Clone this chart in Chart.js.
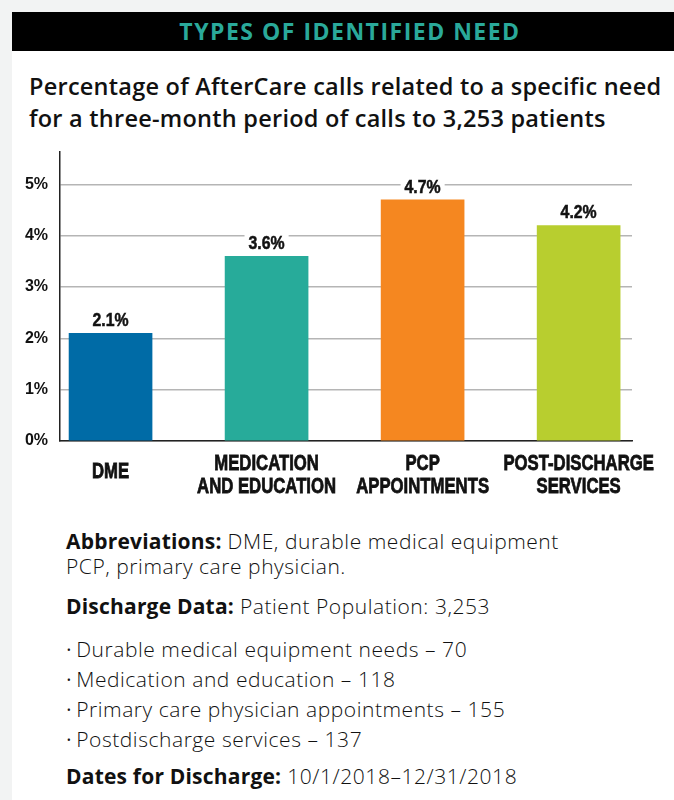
<!DOCTYPE html>
<html>
<head>
<meta charset="utf-8">
<script src="https://cdn.jsdelivr.net/npm/chart.js@4.4.1/dist/chart.umd.min.js"></script>
<style>
  body { margin: 0; background: #f2f3f3; width: 674px; height: 800px; overflow: hidden; }
  .panel { position: absolute; left: 12px; top: 12px; width: 662px; height: 788px; background: #fff; }
  .header { position: absolute; left: 12px; top: 12px; width: 662px; height: 39px; background: #000;
    color: #2aa99a; font: 700 23px 'Open Sans', sans-serif; letter-spacing: 1.5px; line-height: 39px;
    text-align: center; box-sizing: border-box; padding-left: 14px; }
  .title { position: absolute; left: 29px; top: 70px; font: 600 23.5px 'Open Sans', sans-serif;
    letter-spacing: 0.25px; line-height: 32px; color: #111; white-space: nowrap; }
  .note { position: absolute; left: 66px; font: 300 21px 'Open Sans', sans-serif; letter-spacing: 0.55px;
    line-height: 25px; color: #111; white-space: nowrap; }
  .note b { font-weight: 700; letter-spacing: 0.2px; }
  .dot { font-size: 15px; vertical-align: 2px; margin-right: 4px; }
  #wrap { position: absolute; left: 12px; top: 130px; }
</style>
</head>
<body>
<div class="panel"></div>
<div class="header">TYPES OF IDENTIFIED NEED</div>
<div class="title">Percentage of AfterCare calls related to a specific need<br>for a three-month period of calls to 3,253 patients</div>
<div id="wrap"><canvas id="chart" width="662" height="390"></canvas></div>

<div class="note" style="top:529px"><b>Abbreviations:</b> DME, durable medical equipment</div>
<div class="note" style="top:554px">PCP, primary care physician.</div>
<div class="note" style="top:594px"><b>Discharge Data:</b> Patient Population: 3,253</div>
<div class="note" style="top:637px"><span class="dot">•</span>Durable medical equipment needs – 70</div>
<div class="note" style="top:667px"><span class="dot">•</span>Medication and education – 118</div>
<div class="note" style="top:697px"><span class="dot">•</span>Primary care physician appointments – 155</div>
<div class="note" style="top:727px"><span class="dot">•</span>Postdischarge services – 137</div>
<div class="note" style="top:764px"><b>Dates for Discharge:</b> 10/1/2018–12/31/2018</div>

<script>
var categories = [['DME'], ['MEDICATION', 'AND EDUCATION'], ['PCP', 'APPOINTMENTS'], ['POST-DISCHARGE', 'SERVICES']];
var percentages = [2.1, 3.6, 4.7, 4.2];
var barColors = ['#006ba6', '#27ab9a', '#f58720', '#b8ce2f'];
var yTicks = [0, 1, 2, 3, 4, 5];

var boldFont = "'Liberation Sans', Arial, sans-serif";

// texte condense : pas de police etroite installee, on compresse en largeur
var drawNarrow = (ctx, text, x, y, squeeze) => {
  ctx.save();
  ctx.translate(x, y);
  ctx.scale(squeeze, 1);
  ctx.strokeText(text, 0, 0);
  ctx.fillText(text, 0, 0);
  ctx.restore();
};

// valeurs au-dessus des barres, sur fond blanc
var valueLabels = {
  id: 'valueLabels',
  afterDatasetsDraw(chart) {
    var ctx = chart.ctx;
    var meta = chart.getDatasetMeta(0);
    ctx.save();
    ctx.font = 'bold 18px ' + boldFont;
    ctx.textAlign = 'center';
    ctx.textBaseline = 'middle';
    ctx.lineWidth = 0.5;
    meta.data.forEach((bar, i) => {
      var text = percentages[i].toFixed(1) + '%';
      var w = ctx.measureText(text).width * 0.88 + 8;
      var y = bar.y - 12;
      ctx.fillStyle = '#fff';
      ctx.fillRect(bar.x - w / 2, y - 12, w, 23);
      ctx.fillStyle = '#111';
      ctx.strokeStyle = '#111';
      drawNarrow(ctx, text, bar.x, y, 0.88);
    });
    ctx.restore();
  }
};

// libelles de categories sous l'axe
var categoryLabels = {
  id: 'categoryLabels',
  afterDraw(chart) {
    var ctx = chart.ctx;
    var xScale = chart.scales.x;
    var lineHeight = 23;
    ctx.save();
    ctx.font = 'bold 22px ' + boldFont;
    ctx.textAlign = 'center';
    ctx.textBaseline = 'middle';
    ctx.fillStyle = '#111';
    ctx.strokeStyle = '#111';
    ctx.lineWidth = 0.8;
    categories.forEach((lines, i) => {
      var x = xScale.getPixelForValue(i);
      var y = chart.chartArea.bottom + 23 + (2 - lines.length) * lineHeight * 0.35;
      lines.forEach((line, j) => drawNarrow(ctx, line, x, y + j * lineHeight, 0.76));
    });
    ctx.restore();
  }
};

new Chart(document.getElementById('chart'), {
  type: 'bar',
  data: {
    datasets: [{
      data: percentages.map((v, i) => ({ x: i, y: v })),
      backgroundColor: barColors,
      barThickness: 83
    }]
  },
  options: {
    responsive: false,
    animation: false,
    layout: { padding: { top: 0, right: 42, bottom: 0, left: 0 } },
    plugins: { legend: { display: false }, tooltip: { enabled: false } },
    scales: {
      x: {
        type: 'linear',
        offset: false,
        min: -0.324,
        max: 3.342,
        grid: { display: false },
        ticks: { display: false },
        border: { color: '#222', width: 1.5 },
        afterFit: scale => { scale.height = 79; }
      },
      y: {
        min: 0,
        max: 5.64,
        grid: { color: '#b5b5b5', lineWidth: 1.5, drawTicks: false },
        border: { color: '#222', width: 1.5 },
        ticks: {
          padding: 12,
          color: '#111',
          font: { family: boldFont, size: 16, weight: 'bold' },
          callback: v => v + '%'
        },
        afterBuildTicks: scale => { scale.ticks = yTicks.map(v => ({ value: v })); },
        afterFit: scale => { scale.width = 48; }
      }
    }
  },
  plugins: [valueLabels, categoryLabels]
});
</script>
</body>
</html>
